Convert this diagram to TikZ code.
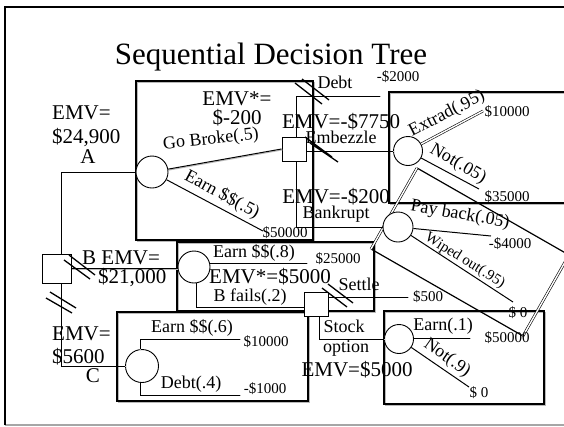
\documentclass[tikz,border=0pt]{standalone}
\usepackage{fontspec}
\setmainfont{Liberation Serif}
\usetikzlibrary{positioning,calc}

\tikzset{
  chance/.style={circle,draw,fill=white,line width=0.9pt,minimum size=32pt,inner sep=0pt},
  choice/.style={rectangle,draw,fill=white,line width=0.9pt,minimum size=24pt,inner sep=0pt},
  pane/.style={draw,line width=1.3pt,preaction={draw=gray!55,line width=1.3pt,transform canvas={shift={(1.3pt,-1.3pt)}}}},
  branch/.style={line width=1pt,preaction={draw=gray!55,line width=1pt,transform canvas={shift={(0.9pt,-0.9pt)}}}},
  twin/.style={double,line width=0.6pt,double distance=1.4pt},
  cut/.style={line width=1.3pt},
  pay/.style={font=\fontsize{15}{15}\selectfont,inner sep=0pt,anchor=base},
  lbl/.style={font=\fontsize{18}{18}\selectfont,inner sep=0pt,anchor=base},
  emv/.style={font=\fontsize{21}{21}\selectfont,inner sep=0pt,anchor=base},
}

\begin{document}
\begin{tikzpicture}[x=1pt,y=-1pt]
  \useasboundingbox (0,0) rectangle (564,426);
  \clip (0,0) rectangle (564,426);
  %% slide frame
  \draw[gray!70,line width=1.5pt] (5,425) -- (570,425);
  \draw[line width=2pt] (5,425) -- (5,7) -- (570,7);
  \node[font=\fontsize{31}{31}\selectfont,inner sep=0pt,anchor=base] (title) at (271,64) {Sequential Decision Tree};

  %% panels
  \draw[pane] (136,81) rectangle (313,240);
  \draw[pane] (570,92) -- (389,92) -- (389,203) -- (570,203);
  \draw[pane] (177,242) rectangle (374,311);
  \draw[pane] (117,312) rectangle (308,401);
  \draw[pane] (384,311) rectangle (544,404);
  \coordinate (r1) at (417,168);
  \coordinate (r2) at (371,249);
  \coordinate (r3) at (523,336);
  \coordinate (r4) at (569,255);
  \draw[line width=1.2pt] (r1) -- (r4) (r2) -- (r3);
  \draw[twin] (r1) -- (r2) (r3) -- (r4);

  %% decision and chance nodes
  \node[chance] (A) at (152,172) {};
  \node[choice,minimum size=29pt] (Bsq) at (56.5,268.5) {};
  \node[choice] (G) at (294,149) {};
  \node[chance,minimum size=29pt] (E) at (408,151) {};
  \node[chance,minimum size=30pt] (P) at (398,227) {};
  \node[chance] (B) at (194,267) {};
  \node[choice] (S) at (316,304) {};
  \node[chance,minimum size=29pt] (SO) at (399,339) {};
  \node[chance,minimum size=33pt] (C) at (142,366) {};

  %% branch ends
  \coordinate (aearn) at (263,231);
  \coordinate (gdebt) at (380,96);
  \coordinate (ex) at (483,111);
  \coordinate (en) at (479,189);
  \coordinate (pp) at (491,236);
  \coordinate (pw) at (513,302);
  \coordinate (be) at (307,263);
  \coordinate (st) at (408,297);
  \coordinate (se) at (470,338);
  \coordinate (sn) at (469,387);
  \coordinate (ce) at (240,339);
  \coordinate (cd) at (240,395);

  %% connectors
  \draw[branch] (A.west) -| ([xshift=4.5pt]Bsq.north);
  \draw[branch] ([xshift=4.5pt]Bsq.south) |- (C.west);
  \draw[branch] (Bsq.east) -- (Bsq.east -| B.west);
  \draw[branch] (A) -- (G.west);
  \draw[line width=1pt] (A) -- (aearn);
  \draw[branch] ([xshift=2pt]G.north) |- (gdebt);
  \draw[branch] (G.east |- E.west) -- (E.west);
  \draw[branch] ([xshift=2pt]G.south) |- (P.west);
  \draw[twin] (E) -- (ex);
  \draw[line width=1pt] (E) -- (en);
  \draw[line width=1pt] (P) -- (pp);
  \draw[line width=1pt] (P) -- (pw);
  \draw[branch] (B.east |- be) -- (be);
  \draw[branch] ([xshift=2pt]B.south) |- ([yshift=-3pt]S.west);
  \draw[branch] (S.east |- st) -- (st);
  \draw[branch] ([xshift=3pt]S.south) |- (SO.west);
  \draw[branch] (SO.east |- se) -- (se);
  \draw[line width=1pt] (SO) -- (sn);
  \draw[branch] ([xshift=-2pt]C.north) |- (ce);
  \draw[branch] ([xshift=-2pt]C.south) |- (cd);

  %% blocked branches
  \draw[cut] (295,83) -- (322,104) (302,79) -- (329,100);
  \draw[cut] (305,137) -- (332,157) (310,143) -- (338,162);
  \draw[cut] (322,288) -- (347,307) (328,284) -- (353,303);
  \draw[cut] (64,260) -- (90,279) (69,255) -- (95,275);
  \draw[cut] (46,298) -- (72,313) (50,292) -- (76,308);

  %% EMV texts
  \node[emv,anchor=base west] (emvA) at (52,119) {EMV=};
  \node[emv,anchor=base west] (valA) at (52,143) {\$24,900};
  \node[emv] (tagA) at (88,163) {A};
  \node[emv] (emvG) at (237,105) {EMV*=};
  \node[emv] (valG) at (237,124) {\$-200};
  \node[emv] (emvE) at (341,128) {EMV=-\$7750};
  \node[emv] (emvP) at (336,203) {EMV=-\$200};
  \node[emv,anchor=base west] (emvB) at (82,264) {B EMV=};
  \node[emv,anchor=base west] (valB) at (98,283) {\$21,000};
  \node[emv] (emvS) at (270,283) {EMV*=\$5000};
  \node[emv] (emvSO) at (357,376) {EMV=\$5000};
  \node[emv,anchor=base west] (emvC) at (52,340) {EMV=};
  \node[emv,anchor=base west] (valC) at (52,363) {\$5600};
  \node[emv] (tagC) at (93,382) {C};

  %% branch labels
  \node[lbl,anchor=center,rotate=6] (gobroke) at (211,140) {Go Broke(.5)};
  \node[lbl,anchor=center,rotate=-28] (earnA) at (222,195) {Earn \$\$(.5)};
  \node[lbl] (debt) at (335,88) {Debt};
  \node[lbl] (embez) at (341,143) {Embezzle};
  \node[lbl] (bankr) at (336,218) {Bankrupt};
  \node[lbl,anchor=center,rotate=27] (extrad) at (447,114) {Extrad(.95)};
  \node[lbl,anchor=center,rotate=-30] (notE) at (458,164) {Not(.05)};
  \node[lbl,anchor=center,rotate=-10] (payback) at (460,215) {Pay back(.05)};
  \node[lbl,anchor=center,rotate=-32,font=\fontsize{15}{15}\selectfont] (wiped) at (465,261) {Wiped out(.95)};
  \node[lbl] (earnB) at (254,257) {Earn \$\$(.8)};
  \node[lbl] (failB) at (250,301) {B fails(.2)};
  \node[lbl] (settle) at (359,290) {Settle};
  \node[lbl] (stock) at (344,332) {Stock};
  \node[lbl] (option) at (346,352) {option};
  \node[lbl] (earnSO) at (443,330) {Earn(.1)};
  \node[lbl,anchor=center,rotate=-35] (notSO) at (447,358) {Not(.9)};
  \node[lbl] (earnC) at (192,332) {Earn \$\$(.6)};
  \node[lbl] (debtC) at (191,388) {Debt(.4)};

  %% payoffs
  \node[pay] (pA) at (285,237) {\$50000};
  \node[pay] (pDebt) at (398,81) {-\$2000};
  \node[pay] (pEx) at (507,116) {\$10000};
  \node[pay] (pNot) at (507,201) {\$35000};
  \node[pay] (pPay) at (510,248) {-\$4000};
  \node[pay] (pWipe) at (518,317) {\$ 0};
  \node[pay] (pB) at (338,263) {\$25000};
  \node[pay] (pSet) at (428,301) {\$500};
  \node[pay] (pSOe) at (507,342) {\$50000};
  \node[pay] (pSOn) at (479,397) {\$ 0};
  \node[pay] (pCe) at (266,346) {\$10000};
  \node[pay] (pCd) at (265,393) {-\$1000};
\end{tikzpicture}
\end{document}
